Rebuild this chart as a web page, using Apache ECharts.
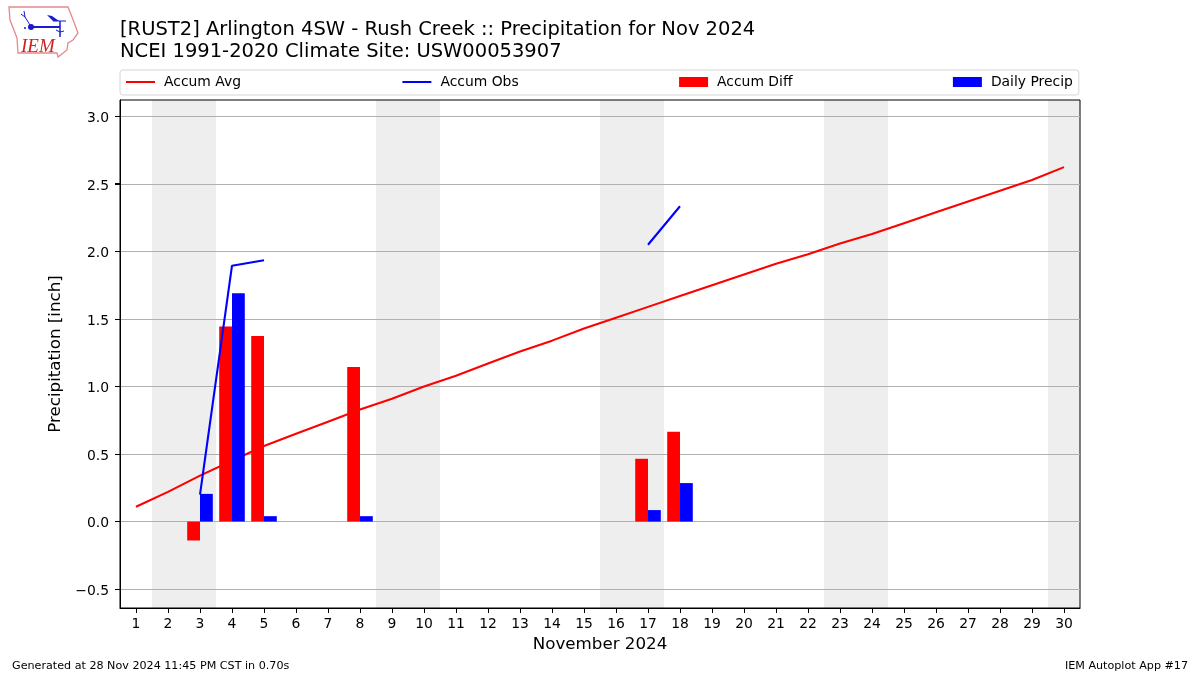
<!DOCTYPE html>
<html>
<head>
<meta charset="utf-8">
<title>Precipitation for Nov 2024</title>
<script src="https://cdn.jsdelivr.net/npm/echarts@6/dist/echarts.min.js"></script>
<style>
html,body{margin:0;padding:0;background:#fff}
#chart{width:1200px;height:675px}
</style>
</head>
<body>
<div id="chart"></div>
<script>
var days=['1','2','3','4','5','6','7','8','9','10','11','12','13','14','15','16','17','18','19','20','21','22','23','24','25','26','27','28','29','30'];
var accumAvg=[0.11,0.22,0.34,0.45,0.56,0.65,0.74,0.83,0.91,1.00,1.08,1.17,1.26,1.34,1.43,1.51,1.59,1.67,1.75,1.83,1.91,1.98,2.06,2.13,2.21,2.29,2.37,2.45,2.53,2.625];
var accumObs=[null,null,0.20,1.895,1.935,null,null,null,null,null,null,null,null,null,null,null,2.05,2.335,null,null,null,null,null,null,null,null,null,null,null,null];
var accumDiff=[null,null,-0.14,1.445,1.375,null,null,1.145,null,null,null,null,null,null,null,null,0.465,0.665,null,null,null,null,null,null,null,null,null,null,null,null];
var dailyPrecip=[null,null,0.205,1.69,0.04,null,null,0.04,null,null,null,null,null,null,null,null,0.085,0.285,null,null,null,null,null,null,null,null,null,null,null,null];
var yTicks=[-0.5,0,0.5,1,1.5,2,2.5,3];
var weekends=[[1.5,3.5],[8.5,10.5],[15.5,17.5],[22.5,24.5],[29.5,30.5]];

var font='DejaVu Sans';
var myChart=echarts.init(document.getElementById('chart'),null,{renderer:'canvas'});
var option={
    animation:false,
    backgroundColor:'#fff',
    textStyle:{fontFamily:font},
    title:{
        text:'[RUST2] Arlington 4SW - Rush Creek :: Precipitation for Nov 2024\nNCEI 1991-2020 Climate Site: USW00053907',
        left:120,top:19,padding:0,
        textStyle:{fontFamily:font,fontSize:19.5,fontWeight:'normal',color:'#000',lineHeight:22}
    },
    legend:{
        left:120,top:70,itemGap:160.4,itemWidth:29,itemHeight:10,
        padding:[5,6,6,5],
        borderColor:'#d5d5d5',borderWidth:1,borderRadius:3,
        selectedMode:false,
        textStyle:{fontFamily:font,fontSize:13.9,color:'#000',padding:[0,0,0,4]},
        data:[
            {name:'Accum Avg',itemStyle:{opacity:0}},
            {name:'Accum Obs',itemStyle:{opacity:0}},
            {name:'Accum Diff',icon:'rect'},
            {name:'Daily Precip',icon:'rect'}
        ]
    },
    grid:{left:120,right:120,top:100,bottom:67,show:true,borderColor:'#000',borderWidth:1,backgroundColor:'transparent'},
    xAxis:[{
        type:'category',data:days,
        name:'November 2024',nameLocation:'middle',nameGap:28,
        nameTextStyle:{fontFamily:font,fontSize:16.7,color:'#000'},
        axisLine:{show:true,onZero:false,lineStyle:{color:'#000'}},
        axisTick:{show:true,alignWithLabel:true,length:5,lineStyle:{color:'#000',width:1}},
        axisLabel:{interval:0,fontFamily:font,fontSize:13.9,color:'#000',margin:9},
        splitLine:{show:false}
    },{
        // hidden axis, only for the weekend shading
        type:'value',min:0.5,max:30.5,show:false
    }],
    yAxis:{
        type:'value',min:-0.64,max:3.122,
        name:'Precipitation [inch]',nameLocation:'middle',nameGap:49,
        nameTextStyle:{fontFamily:font,fontSize:16.7,color:'#000'},
        axisLine:{show:true,onZero:false,lineStyle:{color:'#000'}},
        axisTick:{show:true,length:5,lineStyle:{color:'#000',width:1},customValues:yTicks},
        axisLabel:{fontFamily:font,fontSize:13.9,color:'#000',margin:11,verticalAlign:'top',lineHeight:4,customValues:yTicks,
            formatter:function(v){return (v<0?'\u2212'+(-v).toFixed(1):v.toFixed(1));}},
        splitLine:{show:true,lineStyle:{color:'#b0b0b0',width:1}}
    },
    series:[{
        name:'weekend',type:'line',xAxisIndex:1,data:[],z:-1,silent:true,
        markArea:{z:-2,silent:true,itemStyle:{color:'#eeeeee'},label:{show:false},
            data:weekends.map(function(w){return [{xAxis:w[0]},{xAxis:w[1]}];})}
    },{
        name:'Accum Avg',type:'line',data:accumAvg,showSymbol:false,symbol:'none',z:2,
        lineStyle:{color:'#ff0000',width:2.1},itemStyle:{color:'#ff0000'}
    },{
        name:'Accum Obs',type:'line',data:accumObs,showSymbol:false,symbol:'none',z:4,
        connectNulls:false,lineStyle:{color:'#0000ff',width:2.1},itemStyle:{color:'#0000ff'}
    },{
        name:'Accum Diff',type:'bar',data:accumDiff,barWidth:12.8,barGap:0,z:3,
        itemStyle:{color:'#ff0000'}
    },{
        name:'Daily Precip',type:'bar',data:dailyPrecip,barWidth:12.8,barGap:0,z:3,
        itemStyle:{color:'#0000ff'}
    }],
    graphic:[
        {type:'text',left:12,top:661,style:{text:'Generated at 28 Nov 2024 11:45 PM CST in 0.70s',font:'11.15px "DejaVu Sans"',fill:'#000'}},
        {type:'text',right:12,top:661,style:{text:'IEM Autoplot App #17',font:'11.15px "DejaVu Sans"',fill:'#000'}},
        // logo
        {type:'polygon',shape:{points:[[9,7],[68,7],[72,17],[78,33],[73,40],[68,43],[67,50],[58,57],[57,53],[18,53],[17,38],[10,20]]},
            style:{fill:'none',stroke:'#e58a8a',lineWidth:1.3}},
        {type:'polyline',shape:{points:[[31,27],[60,27]]},style:{stroke:'#1a1ad0',lineWidth:2,fill:'none'}},
        {type:'circle',shape:{cx:31,cy:27,r:3},style:{fill:'#1a1ad0'}},
        {type:'polygon',shape:{points:[[47,15],[52,16],[59,21],[53,21]]},style:{fill:'#1a1ad0'}},
        {type:'polyline',shape:{points:[[53,21],[66,21]]},style:{stroke:'#1a1ad0',lineWidth:1,fill:'none'}},
        {type:'polyline',shape:{points:[[60,21],[60,37]]},style:{stroke:'#1a1ad0',lineWidth:1.5,fill:'none'}},
        {type:'polyline',shape:{points:[[56,30],[60,32],[64,31]]},style:{stroke:'#1a1ad0',lineWidth:1,fill:'none'}},
        {type:'polyline',shape:{points:[[30,25],[25,17],[21,14]]},style:{stroke:'#1a1ad0',lineWidth:1,fill:'none'}},
        {type:'polyline',shape:{points:[[25,17],[24,11]]},style:{stroke:'#1a1ad0',lineWidth:1,fill:'none'}},
        {type:'circle',shape:{cx:25,cy:28,r:1},style:{fill:'#1a1ad0'}},
        {type:'text',left:21,top:37,style:{text:'IEM',font:'italic 19px "Liberation Serif"',fill:'#d42020'}}
    ]
};
myChart.setOption(option);

// y ticks drawn from the axis scale, axisTick does not show them
var tickEls=yTicks.map(function(v){
    var y=Math.floor(myChart.convertToPixel({yAxisIndex:0},v))+0.5;
    return {type:'line',id:'ytick'+v,z:100,shape:{x1:115,y1:y,x2:120,y2:y},style:{stroke:'#000',lineWidth:1}};
});
myChart.setOption({graphic:tickEls});
window.addEventListener("resize",function(){myChart.resize();});
</script>
</body>
</html>
